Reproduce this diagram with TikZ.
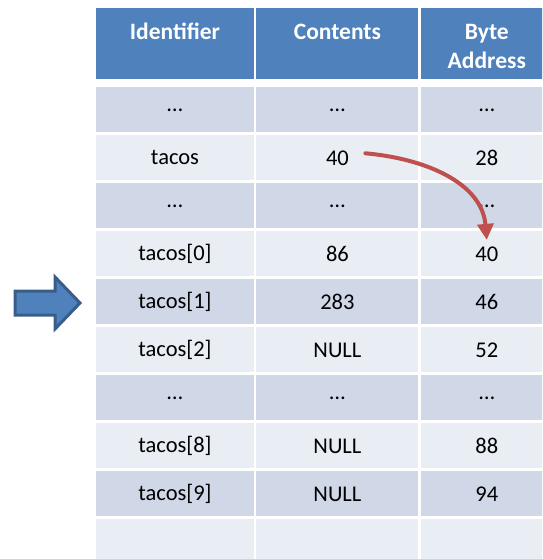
\documentclass[tikz,border=0pt]{standalone}
\usepackage{fontspec}
\setmainfont{Carlito}
\usetikzlibrary{arrows.meta, positioning}

\definecolor{hdblue}{HTML}{4F81BD}
\definecolor{hdedge}{HTML}{385D8A}
\definecolor{rowdark}{HTML}{D0D8E8}
\definecolor{rowlight}{HTML}{E9EDF4}
\definecolor{ptrred}{HTML}{C0504D}

\newcommand\hdtop{\rule{0pt}{20.5pt}}

\begin{document}
\begin{tikzpicture}[x=1pt, y=-1pt, node distance=2.6pt,
    cell/.style={rectangle, inner sep=0pt, minimum height=45pt,
      font=\fontsize{22.5}{28}\selectfont},
    head/.style={cell, fill=hdblue, text=white, minimum height=71pt,
      align=center, font=\bfseries\fontsize{23.5}{29}\selectfont},
    colid/.style={minimum width=158pt},
    colct/.style={minimum width=162pt},
    colad/.style={minimum width=132pt},
    ptrline/.style={draw=ptrred, line width=4pt, line cap=round,
      -{Triangle[length=16pt, width=16pt]}},
    blockarrow/.style={draw=hdedge, fill=hdblue, line width=3pt, line join=miter}]
  \useasboundingbox (0,0) rectangle (542,559);
  \clip (0,0) rectangle (542,559);

  % header
  \node [head, colid] (id0) at (175,43.5) {\hdtop Identifier\\\mbox{}};
  \node [head, colct] [right=2pt of id0] (ct0) {\hdtop Contents\\\mbox{}};
  \node [head, colad] [right=2pt of ct0] (ad0) {\hdtop Byte\\Address};

  % rows of the table
  \foreach \shade/\id/\ct/\ad [count=\r] in {
      rowdark/…/…/…,
      rowlight/tacos/40/28,
      rowdark/…/…/…,
      rowlight/tacos[0]/86/40,
      rowdark/tacos[1]/283/46,
      rowlight/tacos[2]/NULL/52,
      rowdark/…/…/…,
      rowlight/tacos[8]/NULL/88,
      rowdark/tacos[9]/NULL/94,
      rowlight/{}/{}/{}} {
    \pgfmathtruncatemacro\p{\r-1}
    \ifnum\r=1 \def\gap{8pt}\else\def\gap{2.6pt}\fi
    \node [cell, colid, fill=\shade] [below=\gap of id\p] (id\r) {\id};
    \node [cell, colct, fill=\shade] [right=2pt of id\r] (ct\r) {\ct};
    \node [cell, colad, fill=\shade] [right=2pt of ct\r] (ad\r) {\ad};
  }

  % pointer from contents to address
  \draw [ptrline] ([xshift=28pt, yshift=4.6pt]ct2.center)
    to [out=-5, in=95] ([yshift=14pt]ad4.center);

  % marker for the current element
  \draw [blockarrow] (15,291) -- (55,291) -- (55,277) -- (80,303)
    -- (55,329) -- (55,315) -- (15,315) -- cycle;
\end{tikzpicture}
\end{document}
